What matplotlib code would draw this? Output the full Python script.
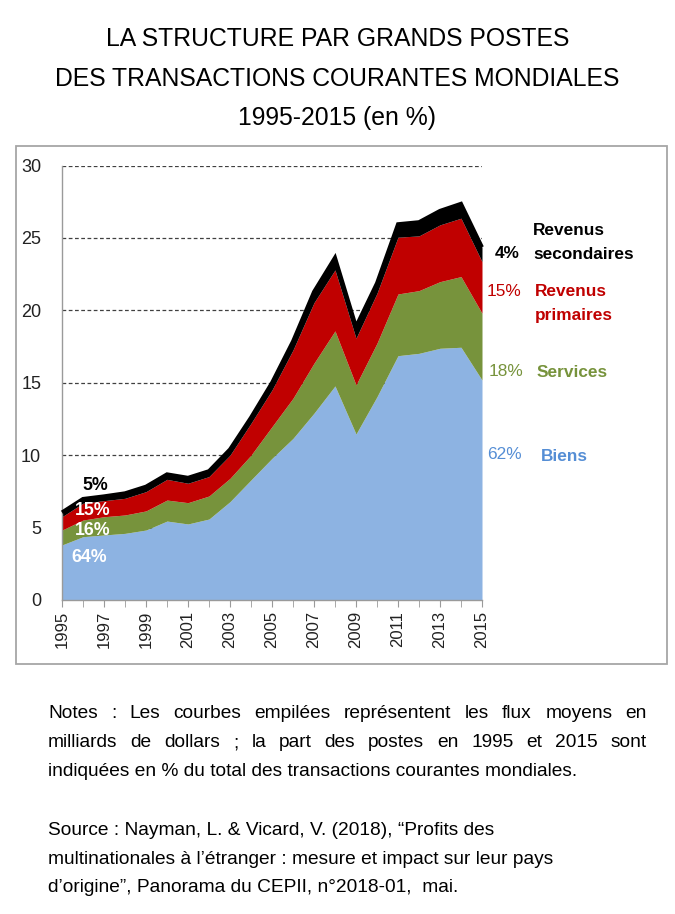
import matplotlib
matplotlib.use("Agg")
import matplotlib.pyplot as plt
from matplotlib.patches import Rectangle

# ---------------- data ----------------
years = list(range(1995, 2016))
biens = [3.80, 4.37, 4.49, 4.60, 4.83, 5.45, 5.25, 5.59, 6.79, 8.29, 9.78,
         11.16, 12.90, 14.78, 11.46, 14.04, 16.87, 17.03, 17.38, 17.45, 15.19]
services = [1.03, 1.15, 1.26, 1.27, 1.32, 1.45, 1.47, 1.59, 1.61, 1.71, 2.19,
            2.77, 3.45, 3.80, 3.39, 3.69, 4.26, 4.33, 4.60, 4.88, 4.61]
primaires = [0.92, 1.16, 1.11, 1.15, 1.33, 1.43, 1.34, 1.34, 1.60, 2.20, 2.53,
             3.33, 4.18, 4.21, 3.22, 3.45, 3.92, 3.78, 3.92, 4.03, 3.56]
secondaires = [0.30, 0.30, 0.30, 0.35, 0.35, 0.35, 0.38, 0.38, 0.40, 0.40, 0.50,
               0.60, 0.75, 0.85, 0.80, 0.70, 0.90, 0.95, 0.97, 1.00, 1.00]
shares_1995 = ["64%", "16%", "15%", "5%"]
shares_2015 = ["62%", "18%", "15%", "4%"]
series_names = ["Biens", "Services", "Revenus\nprimaires", "Revenus\nsecondaires"]
y_ticks = [0, 5, 10, 15, 20, 25, 30]
x_tick_labels = [str(y) for y in range(1995, 2016, 2)]

title_lines = ["LA STRUCTURE PAR GRANDS POSTES",
               "DES TRANSACTIONS COURANTES MONDIALES",
               "1995-2015 (en %)"]
notes_lines = ["Notes : Les courbes empilées représentent les flux moyens en",
               "milliards de dollars ; la part des postes en 1995 et 2015 sont",
               "indiquées en % du total des transactions courantes mondiales."]
source_lines = ["Source : Nayman, L. & Vicard, V. (2018), \u201cProfits des",
                "multinationales à l\u2019étranger : mesure et impact sur leur pays",
                "d\u2019origine\u201d, Panorama du CEPII, n°2018-01,  mai."]

# ---------------- style ----------------
plt.rcParams["font.family"] = ["Liberation Sans", "DejaVu Sans"]

C_BIENS = "#8DB3E2"
C_SERV = "#77933C"
C_PRIM = "#C00000"
C_SEC = "#000000"
C_BIENS_TXT = "#558ED5"

W, H = 675, 914
fig = plt.figure(figsize=(W / 100, H / 100), dpi=100)


def fx(px):
    return px / W


def fy(py):
    return 1 - py / H


def ftext(px, py, s, **kw):
    kw.setdefault("ha", "left")
    kw.setdefault("va", "baseline")
    return fig.text(fx(px), fy(py), s, **kw)


# outer chart frame
fig.patches.append(Rectangle((fx(16), fy(664)), fx(667) - fx(16), fy(146) - fy(664),
                             transform=fig.transFigure, fill=False,
                             edgecolor="#A6A6A6", linewidth=1.3, zorder=0))

# axes
ax_left, ax_right, ax_top, ax_bottom = 62, 482, 165.5, 600
ax = fig.add_axes([fx(ax_left), fy(ax_bottom), fx(ax_right) - fx(ax_left),
                   fy(ax_top) - fy(ax_bottom)])
ax.set_xlim(1995, 2015)
ax.set_ylim(0, 30)

b0 = [0] * len(years)
b1 = biens
b2 = [a + b for a, b in zip(b1, services)]
b3 = [a + b for a, b in zip(b2, primaires)]
b4 = [a + b for a, b in zip(b3, secondaires)]

ax.fill_between(years, b0, b1, color=C_BIENS, linewidth=0, zorder=2)
ax.fill_between(years, b1, b2, color=C_SERV, linewidth=0, zorder=2)
ax.fill_between(years, b2, b3, color=C_PRIM, linewidth=0, zorder=2)
ax.fill_between(years, b3, b4, color=C_SEC, linewidth=0, zorder=2)
ax.plot(years, b4, color=C_SEC, linewidth=2.8, solid_joinstyle="miter",
        solid_capstyle="butt", zorder=3, clip_on=False)

# grid
for yv in y_ticks[1:]:
    ax.axhline(yv, color="#404040", linewidth=0.9, linestyle=(0, (3, 2)), zorder=1)

for s in ["top", "right"]:
    ax.spines[s].set_visible(False)
for s in ["left", "bottom"]:
    ax.spines[s].set_color("#9A9A9A")
    ax.spines[s].set_linewidth(1.0)

ax.set_yticks(y_ticks)
ax.set_yticklabels([str(v) for v in y_ticks], fontsize=13, color="#222222")
ax.tick_params(axis="y", length=0, pad=15)
ax.set_xticks(years, minor=True)
ax.set_xticks(list(range(1995, 2016, 2)))
ax.set_xticklabels(x_tick_labels, rotation=90, fontsize=12, color="#222222")
ax.tick_params(axis="x", which="both", length=5, color="#9A9A9A", direction="out", pad=3)
ax.set_facecolor("none")

# left share labels (1995)
ls = 12.8
ftext(82, 490, shares_1995[3], color="black", fontsize=ls, fontweight="bold")
ftext(75, 515, shares_1995[2], color="white", fontsize=ls, fontweight="bold")
ftext(75, 535, shares_1995[1], color="white", fontsize=ls, fontweight="bold")
ftext(71.5, 561.5, shares_1995[0], color="white", fontsize=ls, fontweight="bold")

# right labels (2015)
rs = 12.4
sec1, sec2 = series_names[3].split("\n")
pri1, pri2 = series_names[2].split("\n")
ftext(495, 258, shares_2015[3], color=C_SEC, fontsize=rs, fontweight="bold")
ftext(533, 235, sec1, color=C_SEC, fontsize=rs, fontweight="bold")
ftext(533, 259, sec2, color=C_SEC, fontsize=rs, fontweight="bold")
ftext(487, 296, shares_2015[2], color=C_PRIM, fontsize=rs)
ftext(535, 296, pri1, color=C_PRIM, fontsize=rs, fontweight="bold")
ftext(535, 320, pri2, color=C_PRIM, fontsize=rs, fontweight="bold")
ftext(489, 376, shares_2015[1], color=C_SERV, fontsize=rs)
ftext(537, 377, series_names[1], color=C_SERV, fontsize=rs, fontweight="bold")
ftext(487, 459.5, shares_2015[0], color=C_BIENS_TXT, fontsize=rs)
ftext(541, 460.5, series_names[0], color=C_BIENS_TXT, fontsize=rs, fontweight="bold")

# title
ts = 17.8
for line, py in zip(title_lines, [45.5, 85.5, 124.5]):
    ftext(337.5, py, line, fontsize=ts, ha="center", color="black")

# notes (first two lines justified)
ns = 13.8
renderer = fig.canvas.get_renderer()


def justified(line, py, left, right):
    words = [w for w in line.split(" ") if w != ""]
    objs = [ftext(0, py, w, fontsize=ns) for w in words]
    widths = [o.get_window_extent(renderer=renderer).width for o in objs]
    gap = (right - left - sum(widths)) / (len(words) - 1)
    x = left
    for o, wd in zip(objs, widths):
        o.set_x(fx(x))
        x += wd + gap


justified(notes_lines[0], 718, 48, 647)
justified(notes_lines[1], 747, 48, 647)
ftext(48, 776, notes_lines[2], fontsize=ns)
for line, py in zip(source_lines, [835, 864, 892]):
    ftext(48, py, line, fontsize=ns)

fig.savefig("out.png", dpi=100)
